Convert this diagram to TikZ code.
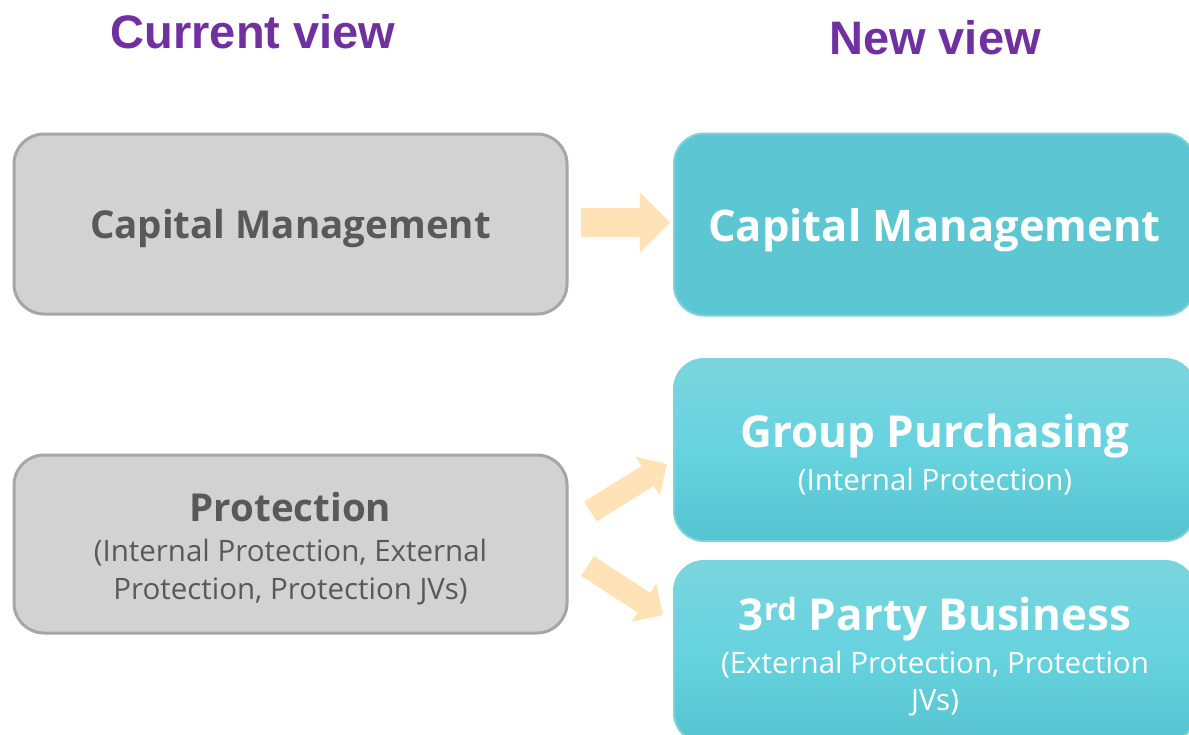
\documentclass[tikz,border=0pt]{standalone}
\usepackage{fontspec}
\setmainfont{Open Sans}
\newfontfamily\titlefont{Liberation Sans}
\usetikzlibrary{shapes.arrows}
\definecolor{purp}{HTML}{7030A0}
\definecolor{grayfill}{HTML}{D2D2D2}
\definecolor{grayline}{HTML}{A6A6A6}
\definecolor{graytext}{HTML}{595959}
\definecolor{teal1}{HTML}{5CC6D2}
\definecolor{tealline}{HTML}{7DD3DC}
\definecolor{tealtop}{HTML}{7BD5DE}
\definecolor{tealmid}{HTML}{66D3DF}
\definecolor{tealbot}{HTML}{56C4D0}
\definecolor{peach}{HTML}{FFE2B6}
\begin{document}
\begin{tikzpicture}[x=1pt,y=-1pt,
  heading/.style={text=purp,font=\titlefont\bfseries\fontsize{47}{56}\selectfont,anchor=base,inner sep=0},
  graybox/.style={draw=grayline,line width=3pt,fill=grayfill,rounded corners=30pt,minimum width=553pt,inner sep=0},
  tealbox/.style={draw=tealline,line width=2pt,fill=teal1,rounded corners=30pt,minimum width=521pt,minimum height=182pt,inner sep=0},
  gradbox/.style={draw=tealline,line width=2pt,top color=tealtop,bottom color=tealbot,middle color=tealmid,rounded corners=30pt,minimum width=521pt,minimum height=182pt,inner sep=0},
  bigarrow/.style={single arrow,fill=peach,draw=none,inner xsep=0pt,inner ysep=14.5pt,outer sep=0pt,single arrow head extend=15.5pt,minimum height=89pt,anchor=tail},
  smallarrow/.style={single arrow,fill=peach,draw=none,inner xsep=0pt,inner ysep=11.5pt,outer sep=0pt,single arrow head extend=11pt,minimum height=90pt,anchor=tail},
  graytitle/.style={anchor=base,inner sep=0,text=graytext,font=\bfseries\fontsize{38.5}{46}\selectfont},
  graysub/.style={anchor=base,inner sep=0,text=graytext,font=\fontsize{29.5}{34}\selectfont},
  whitetitle/.style={anchor=base,inner sep=0,text=white,font=\bfseries\fontsize{44}{52}\selectfont},
  whitesub/.style={anchor=base,inner sep=0,text=white,font=\fontsize{29.5}{34}\selectfont}]
\useasboundingbox (0,0) rectangle (1189,734);
\clip (0,0) rectangle (1189,734);
\fill[white] (0,0) rectangle (1189,734);

\node[heading] (hcur) at (253,48) {Current view};
\node[heading] (hnew) at (935,54) {New view};

\node[graybox,minimum height=180pt] (gcm) at (290.5,224) {};
\node[graybox,minimum height=178pt] (gpr) at (290.5,544) {};
\node[tealbox] (tcm) at (934.5,224.5) {};
\node[gradbox] (tgp) at (934.5,450) {};
\node[gradbox] (t3p) at (934.5,652) {};

\node[bigarrow] (a1) at (581,222.5) {};
\node[smallarrow,rotate=31.8] (a2) at (590.5,511.5) {};
\node[smallarrow,rotate=-33] (a3) at (587.5,566) {};

\node[graytitle] (gcmt) at (290.5,238) {Capital Management};
\node[graytitle] (gprt) at (290.5,521) {Protection};
\node[graysub] (gprs1) at (290.5,561) {(Internal Protection, External};
\node[graysub] (gprs2) at (290.5,599) {Protection, Protection JVs)};

\node[whitetitle,font=\bfseries\fontsize{43.5}{52}\selectfont] (tcmt) at (934.5,241.5) {Capital Management};
\node[whitetitle] (tgpt) at (935,447) {Group Purchasing};
\node[whitesub] (tgps) at (935,490) {(Internal Protection)};
\node[whitetitle] (t3pt) at (935,630) {3\textsuperscript{rd} Party Business};
\node[whitesub] (t3ps1) at (935,673) {(External Protection, Protection};
\node[whitesub] (t3ps2) at (935,710) {JVs)};
\end{tikzpicture}
\end{document}
